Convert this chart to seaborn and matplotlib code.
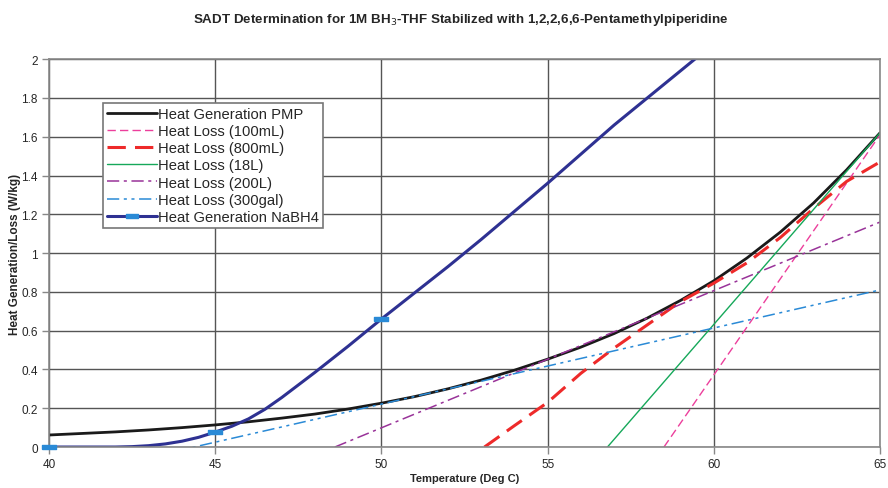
import numpy as np
import pandas as pd
import matplotlib
matplotlib.use("Agg")
import matplotlib.pyplot as plt
import seaborn as sns

# values
pmp_x = [40, 41, 42, 43, 44, 45, 46, 47, 48, 49, 50, 51, 52, 53, 54, 55,
         56, 57, 58, 59, 60, 61, 62, 63, 64, 65]
pmp_y = [0.062, 0.070, 0.078, 0.088, 0.100, 0.114, 0.130, 0.149, 0.170, 0.196,
         0.226, 0.260, 0.300, 0.345, 0.396, 0.453, 0.515, 0.585, 0.665, 0.756,
         0.857, 0.975, 1.108, 1.258, 1.430, 1.620]

loss100_x = [58.5, 65]
loss100_y = [0.0, 1.61]

loss800_x = [53.1, 54, 55, 56, 57, 58, 59, 60, 61, 62, 63, 64, 65]
loss800_y = [0.0, 0.11, 0.23, 0.38, 0.51, 0.63, 0.75, 0.845, 0.95, 1.08, 1.23, 1.37, 1.47]

loss18_x = [56.8, 65]
loss18_y = [0.0, 1.62]

loss200_x = [48.6, 65]
loss200_y = [0.0, 1.16]

loss300_x = [43.6, 65]
loss300_y = [-0.03, 0.81]

nabh4_x = [40, 41, 42, 42.5, 43, 43.5, 44, 44.5, 45, 45.5, 46, 46.5, 47, 47.5, 48,
           49, 50, 51, 52, 53, 54, 55, 56, 57, 58, 59, 60]
nabh4_y = [0.0, 0.0, 0.0, 0.002, 0.007, 0.016, 0.030, 0.050, 0.077, 0.107, 0.145,
           0.195, 0.255, 0.320, 0.385, 0.520, 0.660, 0.795, 0.93, 1.07, 1.215,
           1.36, 1.51, 1.66, 1.80, 1.94, 2.08]
nabh4_mark_x = [40, 45, 50]
nabh4_mark_y = [0.0, 0.077, 0.66]

series = [
    ("Heat Generation PMP", pmp_x, pmp_y, "#1a1a1a", 2.0, "-"),
    ("Heat Loss (100mL)", loss100_x, loss100_y, "#ec3f9c", 1.0, (0, (6, 3))),
    ("Heat Loss (800mL)", loss800_x, loss800_y, "#ee2a2a", 2.2, (0, (6, 3))),
    ("Heat Loss (18L)", loss18_x, loss18_y, "#16a85a", 1.0, "-"),
    ("Heat Loss (200L)", loss200_x, loss200_y, "#993399", 1.1, (0, (8, 3, 2, 3))),
    ("Heat Loss (300gal)", loss300_x, loss300_y, "#2a8ad6", 1.1, (0, (8, 3, 2, 3, 2, 3))),
    ("Heat Generation NaBH4", nabh4_x, nabh4_y, "#2e3192", 2.2, "-"),
]

sns.set_style("white")
plt.rcParams["font.family"] = ["Liberation Sans", "DejaVu Sans"]

fig = plt.figure(figsize=(8.88, 4.89), dpi=100)
ax = fig.add_axes([0.0552, 0.0838, 0.9358, 0.7932])

for name, xs, ys, col, lw, ls in series:
    df = pd.DataFrame({"x": xs, "y": ys})
    sns.lineplot(data=df, x="x", y="y", ax=ax, color=col, linewidth=lw,
                 linestyle=ls, estimator=None, sort=False, legend=False)

# small light-blue data markers on the NaBH4 curve
rect = [(-1, -0.35), (1, -0.35), (1, 0.35), (-1, 0.35), (-1, -0.35)]
ax.plot(nabh4_mark_x, nabh4_mark_y, linestyle="none", marker=rect,
        markersize=10, color="#2a8ad6", clip_on=False, zorder=5)

ax.set_xlim(40, 65)
ax.set_ylim(0, 2)
ax.set_xticks([40, 45, 50, 55, 60, 65])
ax.set_yticks([0, 0.2, 0.4, 0.6, 0.8, 1.0, 1.2, 1.4, 1.6, 1.8, 2.0])
ax.set_yticklabels(["0", "0.2", "0.4", "0.6", "0.8", "1", "1.2", "1.4", "1.6", "1.8", "2"])
ax.grid(True, color="#555555", linewidth=1.0)
ax.set_axisbelow(True)
for s in ax.spines.values():
    s.set_color("#888888")
    s.set_linewidth(1.2)
ax.tick_params(axis="both", length=5, width=1, color="#888888", labelsize=8.5,
               direction="out", left=True, bottom=True, pad=3)

ax.set_xlabel("Temperature (Deg C)", fontsize=8, fontweight="bold", labelpad=2)
ax.set_ylabel("Heat Generation/Loss (W/kg)", fontsize=8.5, fontweight="bold", labelpad=0)

fig.suptitle("SADT Determination for 1M BH$_3$-THF Stabilized with 1,2,2,6,6-Pentamethylpiperidine",
             x=0.519, y=0.975, fontsize=9.6, fontweight="bold")

handles = [plt.Line2D([], [], color=c, linewidth=lw, linestyle=ls)
           for _, _, _, c, lw, ls in series]
handles[-1] = plt.Line2D([0, 1, 2], [0, 0, 0], color="#2e3192", linewidth=2.2,
                         marker=rect, markersize=9, markerfacecolor="#2a8ad6",
                         markeredgecolor="#2a8ad6", markevery=[1])
leg = ax.legend(handles, [s[0] for s in series], loc="upper left",
                bbox_to_anchor=(0.065, 0.887), fontsize=10.6, frameon=True,
                fancybox=False, edgecolor="#777777", framealpha=1,
                borderpad=0.25, labelspacing=0.22, handlelength=3.4,
                handletextpad=0.1, borderaxespad=0)
leg.get_frame().set_linewidth(1.2)

fig.savefig("out.png", dpi=100)
